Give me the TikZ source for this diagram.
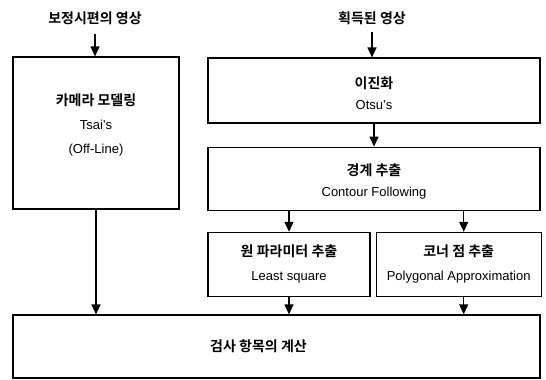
\documentclass[tikz,border=0pt]{standalone}
\usepackage{fontspec}
\setmainfont{Liberation Sans}
\newfontfamily\kr{Noto Sans CJK KR}[BoldFont={* Bold}]
\newcommand{\krtxt}[1]{{\kr\bfseries\fontsize{14}{16}\selectfont #1}}
\usetikzlibrary{positioning,arrows.meta}

\begin{document}
\begin{tikzpicture}[
        x=1pt, y=-1pt,
        node distance=22pt,
        box/.style={
            draw,
            line width=1.2pt,
            align=center,
            font=\fontsize{13}{24}\selectfont,
            inner sep=0pt
        },
        lbl/.style={inner sep=1pt},
        arr/.style={-{Triangle[length=10pt,width=9pt]}, line width=1.2pt}
    ]
        \useasboundingbox (0,0) rectangle (546,380);
        % inputs
        \node[lbl] (srcL) at (95,18) {\krtxt{보정시편의 영상}};
        \node[lbl] (srcR) at (372,18) {\krtxt{획득된 영상}};
        % calibration column
        \node[box, minimum width=166pt, minimum height=152pt] (cam) at (96,133)
            {\krtxt{카메라 모델링}\\ Tsai's\\ (Off-Line)\rule[-18pt]{0pt}{18pt}};
        % image processing column
        \node[box, minimum width=332pt, minimum height=65pt] (bin) at (374,90.5)
            {\rule{0pt}{18pt}\krtxt{이진화}\\[-3pt] Otsu's};
        \node[box, minimum width=332pt, minimum height=63pt, below=23pt of bin] (cont)
            {\rule{0pt}{18pt}\krtxt{경계 추출}\\[-3pt] Contour Following};
        \node[box, minimum width=162pt, minimum height=64pt, below right=21pt and 0pt of cont.south west] (lsq)
            {\krtxt{원 파라미터 추출}\\ Least square};
        \node[box, minimum width=165pt, minimum height=64pt, right=5pt of lsq] (poly)
            {\krtxt{코너 점 추출}\\ Polygonal Approximation};
        \node[box, minimum width=527pt, minimum height=63pt] (calc) at (276.5,346.5)
            {\krtxt{검사 항목의 계산}\hspace*{36pt}};
        % connectors
        \draw[arr, shorten <=8pt] (srcL) -- (srcL |- cam.north);
        \draw[arr, shorten <=6pt] (srcR) -- (srcR |- bin.north);
        \draw[arr] (bin) -- (cont);
        \draw[arr] (lsq.north |- cont.south) -- (lsq.north);
        \draw[arr] ([xshift=5pt]poly.north |- cont.south) -- ([xshift=5pt]poly.north);
        \draw[arr] (cam.south) -- (cam.south |- calc.north);
        \draw[arr] (lsq.south) -- (lsq.south |- calc.north);
        \draw[arr] ([xshift=5pt]poly.south) -- ([xshift=5pt]poly.south |- calc.north);
    \end{tikzpicture}
\end{document}
